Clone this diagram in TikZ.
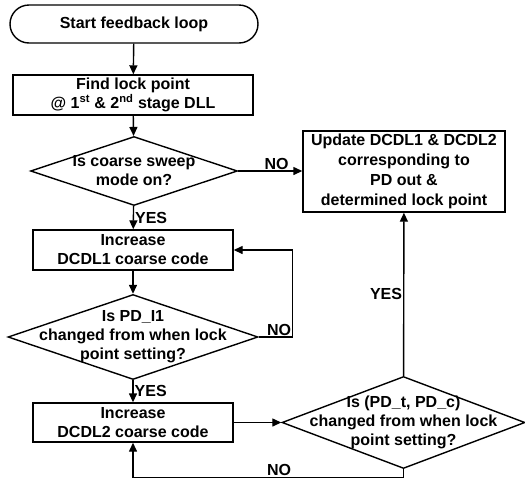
\documentclass[tikz,border=0pt]{standalone}
\usepackage{fontspec}
\setmainfont{Liberation Sans}
\usetikzlibrary{shapes.geometric,arrows.meta}
\tikzset{
  box/.style={draw, align=center, inner sep=0pt, minimum height=40pt},
  decision/.style={draw, diamond, inner sep=0pt},
  arr/.style={-{Triangle[length=9pt,width=8pt]}}
}
\begin{document}
\begin{tikzpicture}[x=1pt,y=-1pt,line width=1.4pt,font=\fontsize{16}{19}\selectfont\bfseries]
\useasboundingbox (0,0) rectangle (525,480);
\node[box, rounded corners=19pt, minimum width=248pt, minimum height=38pt] (start) at (134,24) {Start feedback loop};
\node[box, minimum width=240pt] (find) at (133,95) {Find lock point\\@ 1\textsuperscript{st} \& 2\textsuperscript{nd} stage DLL};
\node[decision, minimum width=207pt, minimum height=69pt,
  label={[align=center]center:{Is coarse sweep\\mode on?}}] (sweep) at (134,171) {};
\node[box, minimum width=200pt] (inc1) at (133,250) {Increase\\DCDL1 coarse code};
\node[decision, minimum width=250pt, minimum height=85pt,
  label={[align=center]center:{Is PD\_I1\\changed from when lock\\point setting?}}] (pdl) at (133,337) {};
\node[box, minimum width=200pt, minimum height=39pt] (inc2) at (133,422.5) {Increase\\DCDL2 coarse code};
\node[decision, minimum width=243pt, minimum height=92pt,
  label={[align=center]center:{Is (PD\_t, PD\_c)\\changed from when lock\\point setting?}}] (pdtc) at (403.5,422.5) {};
\node[box, minimum width=202pt, minimum height=81pt, font=\fontsize{16}{20}\selectfont\bfseries] (update) at (404,171.5)
  {Update DCDL1 \& DCDL2\\corresponding to\\PD out \&\\determined lock point};

\draw[arr] (start) -- (find);
\draw[arr] (find) -- (sweep);
\draw[arr] (sweep) -- node[pos=0.6,above,inner sep=1pt] {NO} (sweep -| update.west);
\draw[arr] (sweep) -- node[right,inner sep=1pt] {YES} (inc1);
\draw[arr] (inc1) -- (pdl);
\draw[arr] (pdl.east) -- ++(34,0) node[above left,inner sep=1pt] {NO} |- (inc1.east);
\draw[arr] (pdl) -- node[right,inner sep=1pt] {YES} (inc2);
\draw[arr] (inc2) -- (pdtc);
\draw[arr] (pdtc) -- node[left,inner sep=1pt] {YES} (update);
\draw[arr] (pdtc.south) -- ++(0,8) -| node[pos=0.23,above,inner sep=1pt] {NO} (inc2.south);
\end{tikzpicture}
\end{document}
